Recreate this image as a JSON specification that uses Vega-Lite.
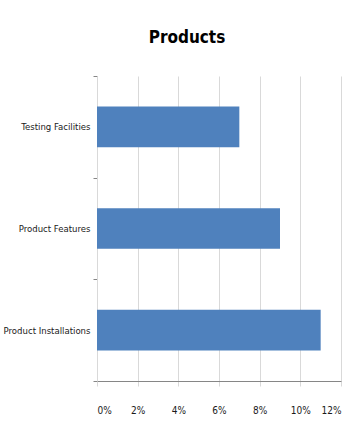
{
  "$schema": "https://vega.github.io/schema/vega-lite/v6.json",
  "width": 244,
  "height": 305,
  "autosize": {"type": "none"},
  "padding": {"left": 97, "top": 76, "right": 10, "bottom": 54},
  "background": "white",
  "title": {
    "text": "Products",
    "font": "'DejaVu Sans Condensed', sans-serif",
    "fontSize": 17,
    "fontWeight": "bold",
    "color": "black",
    "anchor": "middle",
    "frame": "group",
    "dx": -32,
    "offset": 24
  },
  "data": {
    "values": [
      {"category": "Testing Facilities", "share": 0.07},
      {"category": "Product Features", "share": 0.09},
      {"category": "Product Installations", "share": 0.11}
    ]
  },
  "mark": {"type": "bar", "color": "#4F81BD", "height": {"band": 0.4}},
  "encoding": {
    "y": {
      "field": "category",
      "type": "nominal",
      "sort": null,
      "title": null,
      "scale": {"paddingInner": 0, "paddingOuter": 0},
      "axis": {
        "tickBand": "extent",
        "grid": false,
        "domainColor": "#D9D9D9",
        "tickColor": "#868686",
        "tickSize": 4,
        "labelFont": "'DejaVu Sans Condensed', sans-serif",
        "labelFontSize": 9.5,
        "labelColor": "#1a1a1a",
        "labelPadding": 3
      }
    },
    "x": {
      "field": "share",
      "type": "quantitative",
      "title": null,
      "scale": {"domain": [0, 0.12], "nice": false},
      "axis": {
        "format": ".0%",
        "values": [0, 0.02, 0.04, 0.06, 0.08, 0.1, 0.12],
        "grid": true,
        "gridColor": "#D9D9D9",
        "domainColor": "#868686",
        "tickColor": "#D9D9D9",
        "tickSize": 5,
        "labelPadding": 19,
        "labelFont": "'DejaVu Sans Condensed', sans-serif",
        "labelFontSize": 10,
        "labelColor": "#1a1a1a"
      }
    }
  },
  "config": {"view": {"stroke": null}}
}
